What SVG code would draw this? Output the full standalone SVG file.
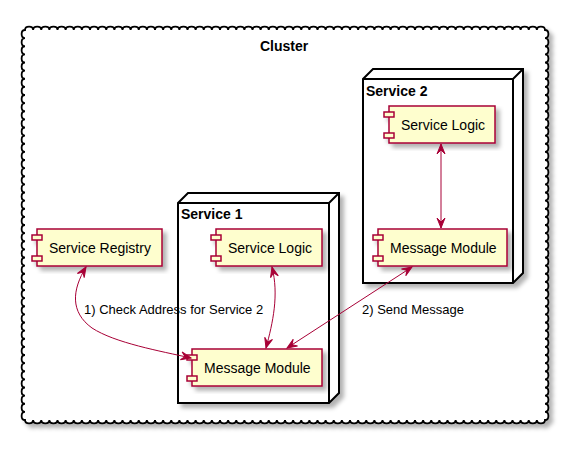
<svg xmlns="http://www.w3.org/2000/svg" width="580" height="453" viewBox="0 0 580 453">
<style>
.frame{fill:#FFFFFF;stroke:#000000;stroke-width:1.8}
.node{fill:#FFFFFF;stroke:#000000;stroke-width:2}
.nline{fill:none;stroke:#000000;stroke-width:2}
.comp{fill:#FEFECE;stroke:#A80036;stroke-width:1.5}
.ttl{font-family:"Liberation Sans",Arial,sans-serif;font-size:14px;font-weight:bold;fill:#000000}
.ctext{font-family:"Liberation Sans",Arial,sans-serif;font-size:14px;fill:#000000}
.ltext{font-family:"Liberation Sans",Arial,sans-serif;font-size:13px;fill:#000000}
.edge{fill:none;stroke:#A80036;stroke-width:1}
</style>
<defs>
<filter id="sh" x="-10%" y="-10%" width="130%" height="130%">
<feGaussianBlur in="SourceAlpha" stdDeviation="2"/>
<feOffset dx="4" dy="4" result="b"/>
<feFlood flood-color="#000000" flood-opacity="0.3"/>
<feComposite in2="b" operator="in"/>
<feMerge><feMergeNode/><feMergeNode in="SourceGraphic"/></feMerge>
</filter>
<marker id="ah" markerUnits="userSpaceOnUse" markerWidth="12" markerHeight="10" refX="0" refY="0" orient="auto-start-reverse" overflow="visible">
<path d="M0,0 L-10,-4 L-6,0 L-10,4 Z" fill="#A80036" stroke="#A80036" stroke-width="1"/>
</marker>
</defs>
<rect width="580" height="453" fill="#FFFFFF"/>

<g id="cluster">
<path class="frame" filter="url(#sh)" d="M25,30
c0,-4.5 8.125,-4.5 8.125,0 0,-4.5 8.125,-4.5 8.125,0 0,-4.5 8.125,-4.5 8.125,0 0,-4.5 8.125,-4.5 8.125,0 0,-4.5 8.125,-4.5 8.125,0 0,-4.5 8.125,-4.5 8.125,0 0,-4.5 8.125,-4.5 8.125,0 0,-4.5 8.125,-4.5 8.125,0
c0,-4.5 8.125,-4.5 8.125,0 0,-4.5 8.125,-4.5 8.125,0 0,-4.5 8.125,-4.5 8.125,0 0,-4.5 8.125,-4.5 8.125,0 0,-4.5 8.125,-4.5 8.125,0 0,-4.5 8.125,-4.5 8.125,0 0,-4.5 8.125,-4.5 8.125,0 0,-4.5 8.125,-4.5 8.125,0
c0,-4.5 8.125,-4.5 8.125,0 0,-4.5 8.125,-4.5 8.125,0 0,-4.5 8.125,-4.5 8.125,0 0,-4.5 8.125,-4.5 8.125,0 0,-4.5 8.125,-4.5 8.125,0 0,-4.5 8.125,-4.5 8.125,0 0,-4.5 8.125,-4.5 8.125,0 0,-4.5 8.125,-4.5 8.125,0
c0,-4.5 8.125,-4.5 8.125,0 0,-4.5 8.125,-4.5 8.125,0 0,-4.5 8.125,-4.5 8.125,0 0,-4.5 8.125,-4.5 8.125,0 0,-4.5 8.125,-4.5 8.125,0 0,-4.5 8.125,-4.5 8.125,0 0,-4.5 8.125,-4.5 8.125,0 0,-4.5 8.125,-4.5 8.125,0
c0,-4.5 8.125,-4.5 8.125,0 0,-4.5 8.125,-4.5 8.125,0 0,-4.5 8.125,-4.5 8.125,0 0,-4.5 8.125,-4.5 8.125,0 0,-4.5 8.125,-4.5 8.125,0 0,-4.5 8.125,-4.5 8.125,0 0,-4.5 8.125,-4.5 8.125,0 0,-4.5 8.125,-4.5 8.125,0
c0,-4.5 8.125,-4.5 8.125,0 0,-4.5 8.125,-4.5 8.125,0 0,-4.5 8.125,-4.5 8.125,0 0,-4.5 8.125,-4.5 8.125,0 0,-4.5 8.125,-4.5 8.125,0 0,-4.5 8.125,-4.5 8.125,0 0,-4.5 8.125,-4.5 8.125,0 0,-4.5 8.125,-4.5 8.125,0
c0,-4.5 8.125,-4.5 8.125,0 0,-4.5 8.125,-4.5 8.125,0 0,-4.5 8.125,-4.5 8.125,0 0,-4.5 8.125,-4.5 8.125,0 0,-4.5 8.125,-4.5 8.125,0 0,-4.5 8.125,-4.5 8.125,0 0,-4.5 8.125,-4.5 8.125,0 0,-4.5 8.125,-4.5 8.125,0
c0,-4.5 8.125,-4.5 8.125,0 0,-4.5 8.125,-4.5 8.125,0 0,-4.5 8.125,-4.5 8.125,0 0,-4.5 8.125,-4.5 8.125,0 0,-4.5 8.125,-4.5 8.125,0 0,-4.5 8.125,-4.5 8.125,0 0,-4.5 8.125,-4.5 8.125,0 0,-4.5 8.125,-4.5 8.125,0
L545,30
c4.5,0 4.5,8.125 0,8.125 4.5,0 4.5,8.125 0,8.125 4.5,0 4.5,8.125 0,8.125 4.5,0 4.5,8.125 0,8.125 4.5,0 4.5,8.125 0,8.125 4.5,0 4.5,8.125 0,8.125 4.5,0 4.5,8.125 0,8.125 4.5,0 4.5,8.125 0,8.125
c4.5,0 4.5,8.125 0,8.125 4.5,0 4.5,8.125 0,8.125 4.5,0 4.5,8.125 0,8.125 4.5,0 4.5,8.125 0,8.125 4.5,0 4.5,8.125 0,8.125 4.5,0 4.5,8.125 0,8.125 4.5,0 4.5,8.125 0,8.125 4.5,0 4.5,8.125 0,8.125
c4.5,0 4.5,8.125 0,8.125 4.5,0 4.5,8.125 0,8.125 4.5,0 4.5,8.125 0,8.125 4.5,0 4.5,8.125 0,8.125 4.5,0 4.5,8.125 0,8.125 4.5,0 4.5,8.125 0,8.125 4.5,0 4.5,8.125 0,8.125 4.5,0 4.5,8.125 0,8.125
c4.5,0 4.5,8.125 0,8.125 4.5,0 4.5,8.125 0,8.125 4.5,0 4.5,8.125 0,8.125 4.5,0 4.5,8.125 0,8.125 4.5,0 4.5,8.125 0,8.125 4.5,0 4.5,8.125 0,8.125 4.5,0 4.5,8.125 0,8.125 4.5,0 4.5,8.125 0,8.125
c4.5,0 4.5,8.125 0,8.125 4.5,0 4.5,8.125 0,8.125 4.5,0 4.5,8.125 0,8.125 4.5,0 4.5,8.125 0,8.125 4.5,0 4.5,8.125 0,8.125 4.5,0 4.5,8.125 0,8.125 4.5,0 4.5,8.125 0,8.125 4.5,0 4.5,8.125 0,8.125
c4.5,0 4.5,8.125 0,8.125 4.5,0 4.5,8.125 0,8.125 4.5,0 4.5,8.125 0,8.125 4.5,0 4.5,8.125 0,8.125 4.5,0 4.5,8.125 0,8.125 4.5,0 4.5,8.125 0,8.125 4.5,0 4.5,8.125 0,8.125 4.5,0 4.5,8.125 0,8.125
L545,420
c0,4.5 -8.125,4.5 -8.125,0 0,4.5 -8.125,4.5 -8.125,0 0,4.5 -8.125,4.5 -8.125,0 0,4.5 -8.125,4.5 -8.125,0 0,4.5 -8.125,4.5 -8.125,0 0,4.5 -8.125,4.5 -8.125,0 0,4.5 -8.125,4.5 -8.125,0 0,4.5 -8.125,4.5 -8.125,0
c0,4.5 -8.125,4.5 -8.125,0 0,4.5 -8.125,4.5 -8.125,0 0,4.5 -8.125,4.5 -8.125,0 0,4.5 -8.125,4.5 -8.125,0 0,4.5 -8.125,4.5 -8.125,0 0,4.5 -8.125,4.5 -8.125,0 0,4.5 -8.125,4.5 -8.125,0 0,4.5 -8.125,4.5 -8.125,0
c0,4.5 -8.125,4.5 -8.125,0 0,4.5 -8.125,4.5 -8.125,0 0,4.5 -8.125,4.5 -8.125,0 0,4.5 -8.125,4.5 -8.125,0 0,4.5 -8.125,4.5 -8.125,0 0,4.5 -8.125,4.5 -8.125,0 0,4.5 -8.125,4.5 -8.125,0 0,4.5 -8.125,4.5 -8.125,0
c0,4.5 -8.125,4.5 -8.125,0 0,4.5 -8.125,4.5 -8.125,0 0,4.5 -8.125,4.5 -8.125,0 0,4.5 -8.125,4.5 -8.125,0 0,4.5 -8.125,4.5 -8.125,0 0,4.5 -8.125,4.5 -8.125,0 0,4.5 -8.125,4.5 -8.125,0 0,4.5 -8.125,4.5 -8.125,0
c0,4.5 -8.125,4.5 -8.125,0 0,4.5 -8.125,4.5 -8.125,0 0,4.5 -8.125,4.5 -8.125,0 0,4.5 -8.125,4.5 -8.125,0 0,4.5 -8.125,4.5 -8.125,0 0,4.5 -8.125,4.5 -8.125,0 0,4.5 -8.125,4.5 -8.125,0 0,4.5 -8.125,4.5 -8.125,0
c0,4.5 -8.125,4.5 -8.125,0 0,4.5 -8.125,4.5 -8.125,0 0,4.5 -8.125,4.5 -8.125,0 0,4.5 -8.125,4.5 -8.125,0 0,4.5 -8.125,4.5 -8.125,0 0,4.5 -8.125,4.5 -8.125,0 0,4.5 -8.125,4.5 -8.125,0 0,4.5 -8.125,4.5 -8.125,0
c0,4.5 -8.125,4.5 -8.125,0 0,4.5 -8.125,4.5 -8.125,0 0,4.5 -8.125,4.5 -8.125,0 0,4.5 -8.125,4.5 -8.125,0 0,4.5 -8.125,4.5 -8.125,0 0,4.5 -8.125,4.5 -8.125,0 0,4.5 -8.125,4.5 -8.125,0 0,4.5 -8.125,4.5 -8.125,0
c0,4.5 -8.125,4.5 -8.125,0 0,4.5 -8.125,4.5 -8.125,0 0,4.5 -8.125,4.5 -8.125,0 0,4.5 -8.125,4.5 -8.125,0 0,4.5 -8.125,4.5 -8.125,0 0,4.5 -8.125,4.5 -8.125,0 0,4.5 -8.125,4.5 -8.125,0 0,4.5 -8.125,4.5 -8.125,0
L25,420
c-4.5,0 -4.5,-8.125 0,-8.125 -4.5,0 -4.5,-8.125 0,-8.125 -4.5,0 -4.5,-8.125 0,-8.125 -4.5,0 -4.5,-8.125 0,-8.125 -4.5,0 -4.5,-8.125 0,-8.125 -4.5,0 -4.5,-8.125 0,-8.125 -4.5,0 -4.5,-8.125 0,-8.125 -4.5,0 -4.5,-8.125 0,-8.125
c-4.5,0 -4.5,-8.125 0,-8.125 -4.5,0 -4.5,-8.125 0,-8.125 -4.5,0 -4.5,-8.125 0,-8.125 -4.5,0 -4.5,-8.125 0,-8.125 -4.5,0 -4.5,-8.125 0,-8.125 -4.5,0 -4.5,-8.125 0,-8.125 -4.5,0 -4.5,-8.125 0,-8.125 -4.5,0 -4.5,-8.125 0,-8.125
c-4.5,0 -4.5,-8.125 0,-8.125 -4.5,0 -4.5,-8.125 0,-8.125 -4.5,0 -4.5,-8.125 0,-8.125 -4.5,0 -4.5,-8.125 0,-8.125 -4.5,0 -4.5,-8.125 0,-8.125 -4.5,0 -4.5,-8.125 0,-8.125 -4.5,0 -4.5,-8.125 0,-8.125 -4.5,0 -4.5,-8.125 0,-8.125
c-4.5,0 -4.5,-8.125 0,-8.125 -4.5,0 -4.5,-8.125 0,-8.125 -4.5,0 -4.5,-8.125 0,-8.125 -4.5,0 -4.5,-8.125 0,-8.125 -4.5,0 -4.5,-8.125 0,-8.125 -4.5,0 -4.5,-8.125 0,-8.125 -4.5,0 -4.5,-8.125 0,-8.125 -4.5,0 -4.5,-8.125 0,-8.125
c-4.5,0 -4.5,-8.125 0,-8.125 -4.5,0 -4.5,-8.125 0,-8.125 -4.5,0 -4.5,-8.125 0,-8.125 -4.5,0 -4.5,-8.125 0,-8.125 -4.5,0 -4.5,-8.125 0,-8.125 -4.5,0 -4.5,-8.125 0,-8.125 -4.5,0 -4.5,-8.125 0,-8.125 -4.5,0 -4.5,-8.125 0,-8.125
c-4.5,0 -4.5,-8.125 0,-8.125 -4.5,0 -4.5,-8.125 0,-8.125 -4.5,0 -4.5,-8.125 0,-8.125 -4.5,0 -4.5,-8.125 0,-8.125 -4.5,0 -4.5,-8.125 0,-8.125 -4.5,0 -4.5,-8.125 0,-8.125 -4.5,0 -4.5,-8.125 0,-8.125 -4.5,0 -4.5,-8.125 0,-8.125
Z"/>
<text class="ttl" x="284" y="51" text-anchor="middle">Cluster</text>
</g>

<g id="service1">
<path class="node" filter="url(#sh)" d="M178,203 L188,193 L339,193 L339,393 L329,403 L178,403 Z"/>
<path class="nline" d="M178,203 L329,203 L339,193 M329,203 L329,403"/>
<text class="ttl" x="181" y="219">Service 1</text>
</g>

<g id="service2">
<path class="node" filter="url(#sh)" d="M363,79 L373,69 L523,69 L523,273 L513,283 L363,283 Z"/>
<path class="nline" d="M363,79 L513,79 L523,69 M513,79 L513,283"/>
<text class="ttl" x="366" y="96">Service 2</text>
</g>

<g id="service-registry">
<g filter="url(#sh)">
<rect class="comp" x="37" y="229" width="125" height="37"/>
<rect class="comp" x="32" y="235" width="10" height="5"/>
<rect class="comp" x="32" y="256" width="10" height="5"/>
</g>
<text class="ctext" x="49" y="253">Service Registry</text>
</g>

<g id="s1-service-logic">
<g filter="url(#sh)">
<rect class="comp" x="216" y="229" width="106" height="37"/>
<rect class="comp" x="211" y="235" width="10" height="5"/>
<rect class="comp" x="211" y="256" width="10" height="5"/>
</g>
<text class="ctext" x="228" y="253">Service Logic</text>
</g>

<g id="s1-message-module">
<g filter="url(#sh)">
<rect class="comp" x="192" y="349" width="130" height="37"/>
<rect class="comp" x="187" y="355" width="10" height="5"/>
<rect class="comp" x="187" y="376" width="10" height="5"/>
</g>
<text class="ctext" x="204" y="373">Message Module</text>
</g>

<g id="s2-service-logic">
<g filter="url(#sh)">
<rect class="comp" x="389" y="106" width="106" height="37"/>
<rect class="comp" x="384" y="112" width="10" height="5"/>
<rect class="comp" x="384" y="133" width="10" height="5"/>
</g>
<text class="ctext" x="401" y="130">Service Logic</text>
</g>

<g id="s2-message-module">
<g filter="url(#sh)">
<rect class="comp" x="378" y="229" width="129" height="37"/>
<rect class="comp" x="373" y="235" width="10" height="5"/>
<rect class="comp" x="373" y="256" width="10" height="5"/>
</g>
<text class="ctext" x="390" y="253">Message Module</text>
</g>

<g id="connectors">
<path class="edge" marker-start="url(#ah)" marker-end="url(#ah)" d="M86,267 C72,290 70,312 92,328 C115,343 160,351 191,358"/>
<path class="edge" marker-start="url(#ah)" marker-end="url(#ah)" d="M272,267 C279,295 273,322 266,348"/>
<path class="edge" marker-start="url(#ah)" marker-end="url(#ah)" d="M412,267 L287,348"/>
<path class="edge" marker-start="url(#ah)" marker-end="url(#ah)" d="M441,144 L441,228"/>
<text class="ltext" x="84" y="314">1) Check Address for Service 2</text>
<text class="ltext" x="362" y="314">2) Send Message</text>
</g>
</svg>
